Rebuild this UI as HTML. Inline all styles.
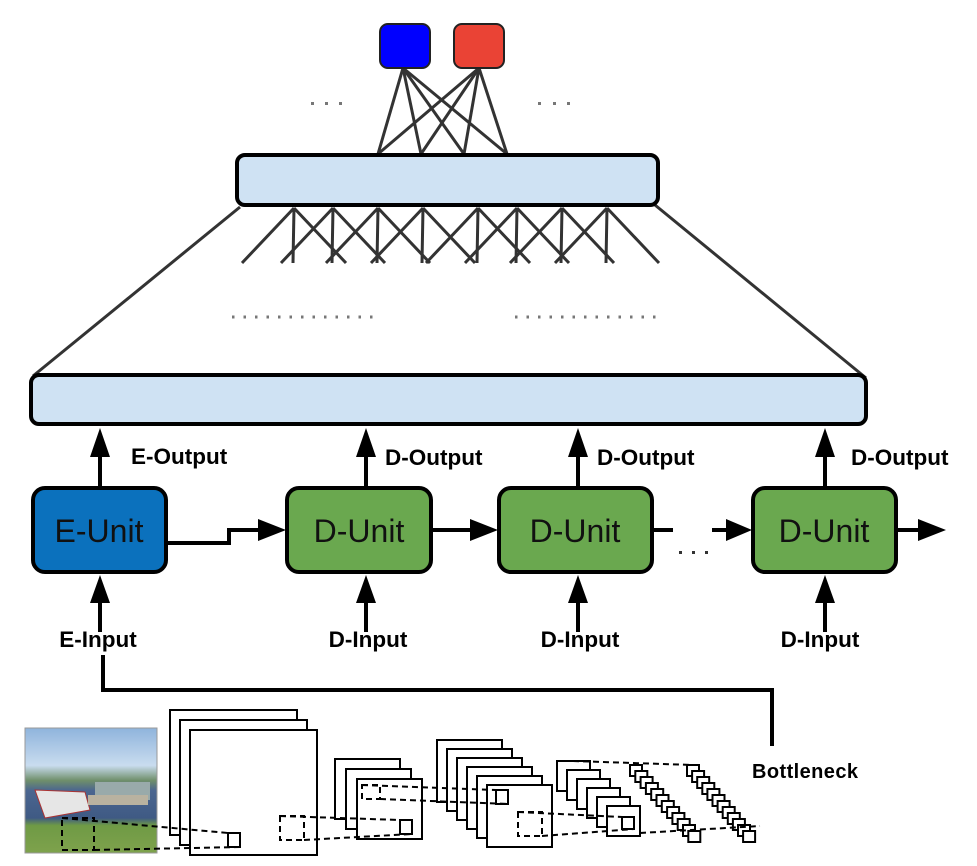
<!DOCTYPE html>
<html><head><meta charset="utf-8"><style>
html,body{margin:0;padding:0;background:#fff;}
svg{display:block;}
.lbl{font-family:"Liberation Sans",Arial,sans-serif;font-weight:bold;font-size:22.5px;fill:#000;}
.unit{font-family:"Liberation Sans",Arial,sans-serif;font-size:32px;fill:#111;}
</style></head><body>
<svg id="s" width="977" height="866" viewBox="0 0 977 866" xmlns="http://www.w3.org/2000/svg">
<defs>
<linearGradient id="ph" x1="0" y1="0" x2="0" y2="1">
<stop offset="0" stop-color="#8fb4dc"/><stop offset="0.3" stop-color="#c9dcef"/><stop offset="0.42" stop-color="#6f8f6a"/><stop offset="0.5" stop-color="#4b6690"/><stop offset="0.72" stop-color="#3f5a84"/><stop offset="0.78" stop-color="#6f9a45"/><stop offset="1" stop-color="#7ea24c"/>
</linearGradient>
</defs>
<g stroke="#333" stroke-width="3">
<line x1="403" y1="68" x2="378" y2="154"/><line x1="403" y1="68" x2="421" y2="154"/><line x1="403" y1="68" x2="464" y2="154"/><line x1="403" y1="68" x2="507" y2="154"/>
<line x1="479" y1="68" x2="378" y2="154"/><line x1="479" y1="68" x2="421" y2="154"/><line x1="479" y1="68" x2="464" y2="154"/><line x1="479" y1="68" x2="507" y2="154"/>
</g>
<rect x="380" y="24" width="50" height="44" rx="8" fill="#0000ff" stroke="#222" stroke-width="2"/>
<rect x="454" y="24" width="50" height="44" rx="8" fill="#ea4335" stroke="#222" stroke-width="2"/>
<g fill="#777"><rect x="311" y="102" width="3" height="3"/><rect x="325" y="102" width="3" height="3"/><rect x="339" y="102" width="3" height="3"/>
<rect x="538" y="102" width="3" height="3"/><rect x="553" y="102" width="3" height="3"/><rect x="567" y="102" width="3" height="3"/></g>
<g id="fan" stroke="#333" stroke-width="3"></g>
<line x1="240" y1="207" x2="33" y2="376" stroke="#333" stroke-width="3"/>
<line x1="655" y1="205" x2="866" y2="378" stroke="#333" stroke-width="3"/>
<rect x="237" y="155" width="421" height="50" rx="8" fill="#cfe2f3" stroke="#000" stroke-width="4"/>
<line x1="232" y1="317" x2="380" y2="317" stroke="#777" stroke-width="3" stroke-dasharray="2.5 9"/>
<line x1="515" y1="317" x2="662" y2="317" stroke="#777" stroke-width="3" stroke-dasharray="2.5 9"/>
<rect x="31" y="375" width="835" height="49" rx="8" fill="#cfe2f3" stroke="#000" stroke-width="4"/>
<g id="arr" fill="#000" stroke="#000" stroke-width="4"></g>
<text class="lbl" x="131" y="464">E-Output</text>
<text class="lbl" x="385" y="465">D-Output</text>
<text class="lbl" x="597" y="465">D-Output</text>
<text class="lbl" x="851" y="465">D-Output</text>
<text class="lbl" x="98" y="647" text-anchor="middle">E-Input</text>
<text class="lbl" x="368" y="647" text-anchor="middle">D-Input</text>
<text class="lbl" x="580" y="647" text-anchor="middle">D-Input</text>
<text class="lbl" x="820" y="647" text-anchor="middle">D-Input</text>
<polyline points="168,543 229,543 229,530 262,530" fill="none" stroke="#000" stroke-width="4"/>
<polygon points="258,519 286,530 258,541"/>
<line x1="431" y1="530" x2="472" y2="530" stroke="#000" stroke-width="4"/><polygon points="470,519 498,530 470,541"/>
<line x1="652" y1="530" x2="673" y2="530" stroke="#000" stroke-width="4"/>
<line x1="712" y1="530" x2="728" y2="530" stroke="#000" stroke-width="4"/><polygon points="726,519 752,530 726,541"/>
<line x1="896" y1="530" x2="920" y2="530" stroke="#000" stroke-width="4"/><polygon points="918,519 946,530 918,541"/>
<g fill="#333"><rect x="679" y="551" width="3" height="3"/><rect x="692" y="551" width="3" height="3"/><rect x="705" y="551" width="3" height="3"/></g>
<rect x="33" y="488" width="133" height="84" rx="12" fill="#0b71bd" stroke="#000" stroke-width="4"/>
<rect x="287" y="488" width="144" height="84" rx="12" fill="#6aa84f" stroke="#000" stroke-width="4"/>
<rect x="499" y="488" width="153" height="84" rx="12" fill="#6aa84f" stroke="#000" stroke-width="4"/>
<rect x="753" y="488" width="143" height="84" rx="12" fill="#6aa84f" stroke="#000" stroke-width="4"/>
<text class="unit" x="99" y="542" text-anchor="middle">E-Unit</text>
<text class="unit" x="359" y="542" text-anchor="middle">D-Unit</text>
<text class="unit" x="575" y="542" text-anchor="middle">D-Unit</text>
<text class="unit" x="824" y="542" text-anchor="middle">D-Unit</text>
<polyline points="103,655 103,690 772,690 772,746" fill="none" stroke="#000" stroke-width="4"/>
<text x="752" y="778" font-family="Liberation Sans,sans-serif" font-weight="bold" font-size="20" textLength="106">Bottleneck</text>
<rect x="25" y="728" width="132" height="125" fill="url(#ph)" stroke="#999"/>
<path d="M35 790 L85 792 L90 810 L45 818 Z" fill="#e6e6e6" stroke="#a33"/>
<rect x="95" y="782" width="55" height="18" fill="#9aa" />
<rect x="88" y="795" width="60" height="10" fill="#b9b2a0"/>
<g id="cnn" fill="#fff" stroke="#000" stroke-width="2"></g>
<g id="dash" fill="none" stroke="#000" stroke-width="2" stroke-dasharray="6 4"></g>
</svg>
<script>
var NS="http://www.w3.org/2000/svg";
function el(p,t,a){var e=document.createElementNS(NS,t);for(var k in a)e.setAttribute(k,a[k]);document.getElementById(p).appendChild(e);return e;}
[294,333,378,423,478,517,562,607].forEach(function(x){
el("fan","line",{x1:x,y1:208,x2:x-1,y2:263});
el("fan","line",{x1:x,y1:208,x2:x-52,y2:263});
el("fan","line",{x1:x,y1:208,x2:x+52,y2:263});
});
[100,366,578,825].forEach(function(x){
el("arr","line",{x1:x,y1:488,x2:x,y2:450});
el("arr","polygon",{points:(x-10)+",457 "+x+",428 "+(x+10)+",457","stroke-width":0});
el("arr","line",{x1:x,y1:632,x2:x,y2:600});
el("arr","polygon",{points:(x-10)+",603 "+x+",575 "+(x+10)+",603","stroke-width":0});
});
function stack(x,y,w,h,n,dx,dy){for(var i=0;i<n;i++)el("cnn","rect",{x:x+i*dx,y:y+i*dy,width:w,height:h});}
stack(170,710,127,125,3,10,10);
stack(335,759,65,60,3,11,10);
stack(437,740,65,62,6,10,9);
stack(557,761,33,30,6,10,9);
stack(630,765,12,11,12,5.3,6);
stack(687,765,12,11,12,5.1,6);
el("cnn","rect",{x:228,y:833,width:12,height:14});
el("cnn","rect",{x:400,y:820,width:12,height:14});
el("cnn","rect",{x:496,y:790,width:12,height:14});
el("cnn","rect",{x:622,y:817,width:12,height:12});
el("dash","rect",{x:62,y:818,width:32,height:32});
el("dash","rect",{x:280,y:816,width:24,height:24});
el("dash","rect",{x:362,y:785,width:18,height:14});
el("dash","rect",{x:518,y:812,width:24,height:24});
el("dash","polyline",{points:"62,818 228,833"});
el("dash","polyline",{points:"94,850 240,847"});
el("dash","polyline",{points:"280,816 400,820"});
el("dash","polyline",{points:"304,840 412,834"});
el("dash","polyline",{points:"362,785 496,790"});
el("dash","polyline",{points:"380,799 508,804"});
el("dash","polyline",{points:"518,812 622,817"});
el("dash","polyline",{points:"542,836 634,829"});
el("dash","polyline",{points:"573,761 693,765"});
el("dash","polyline",{points:"640,833 760,826"});
</script>
</body></html>
